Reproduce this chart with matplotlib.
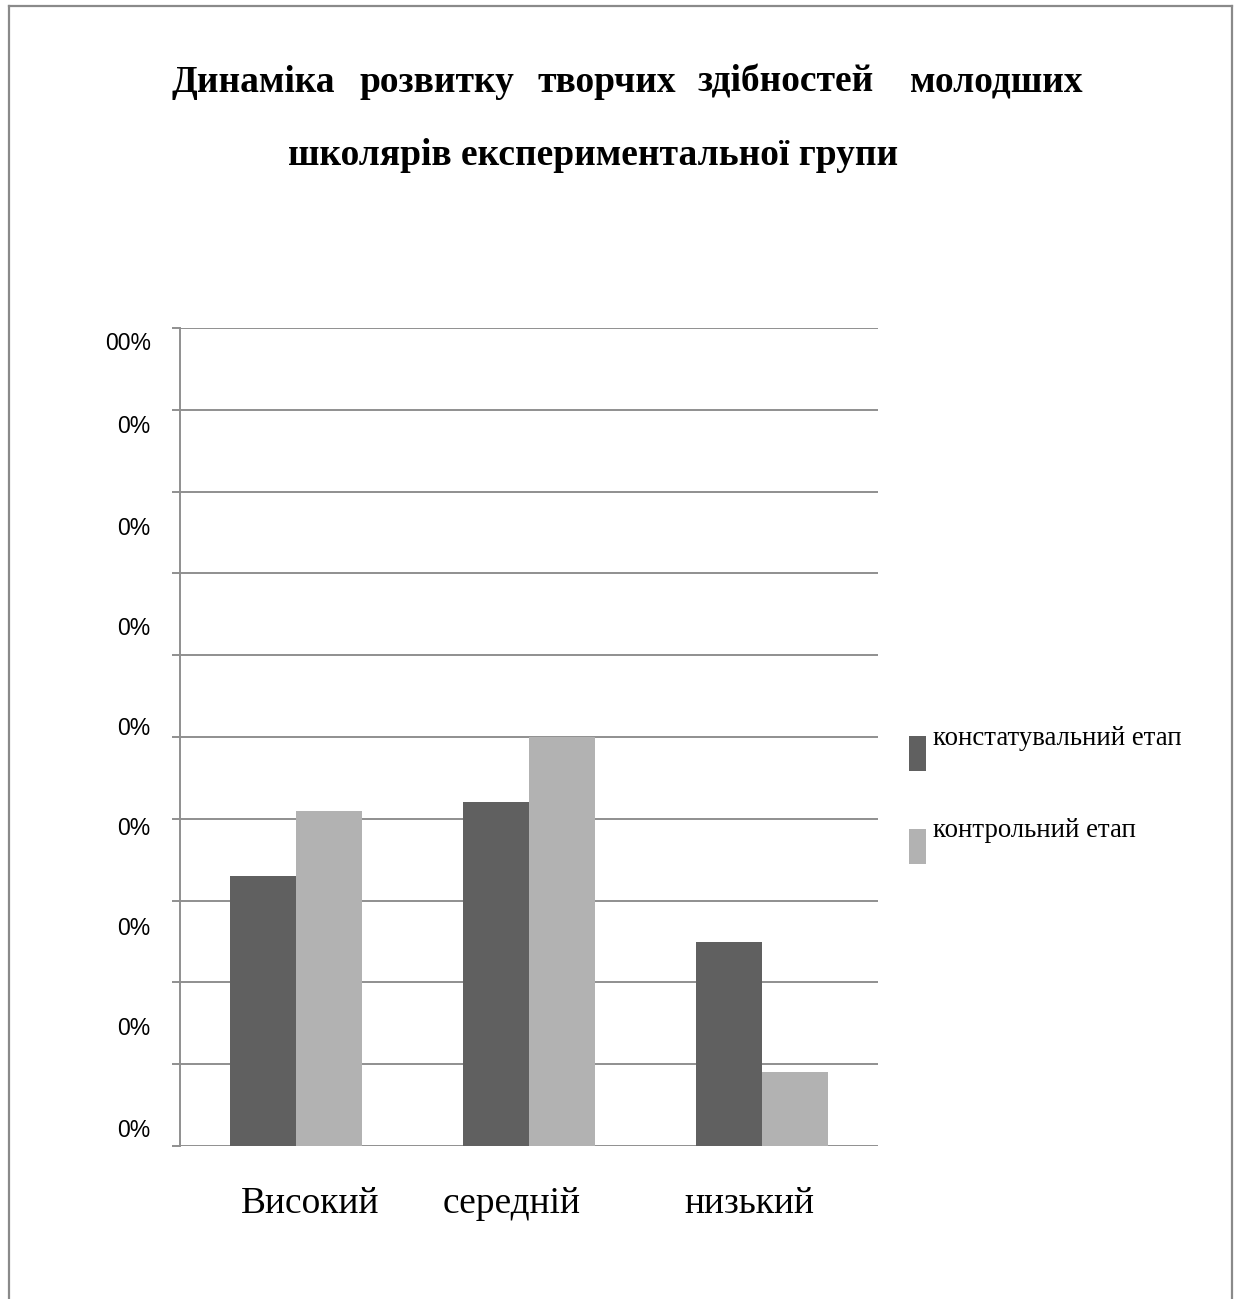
import matplotlib
matplotlib.use("Agg")
import matplotlib.pyplot as plt
from matplotlib.lines import Line2D
from matplotlib.patches import Rectangle
import matplotlib.transforms as mtransforms
import numpy as np

categories = ["Високий", "середній", "низький"]
series_names = ["констатувальний етап", "контрольний етап"]
constat_values = [33, 42, 25]
control_values = [41, 50, 9]
ytick_labels = ["00%", "0%", "0%", "0%", "0%", "0%", "0%", "0%", "0%"]
ytick_label_pos = [98.4, 88.3, 75.8, 63.6, 51.3, 39.1, 26.9, 14.7, 2.2]
grid_values = list(range(0, 101, 10))

W, H = 1237, 1299
fig = plt.figure(figsize=(W / 100, H / 100), dpi=100)
fig.patch.set_facecolor("white")

def fx(px):
    return px / W

def fy(py):
    return 1 - py / H

ax = fig.add_axes([fx(180), fy(1146), fx(878) - fx(180), fy(328) - fy(1146)])

dark = "#606060"
light = "#b2b2b2"
gridc = "#8f8f8f"
bw = 0.284
x = np.arange(len(categories))
ax.bar(x - bw / 2, constat_values, width=bw, color=dark, zorder=3, linewidth=0)
ax.bar(x + bw / 2, control_values, width=bw, color=light, zorder=3, linewidth=0)

ax.set_xlim(-0.5, 2.5)
ax.set_ylim(0, 100)

# gridlines on minor ticks
ax.set_yticks(grid_values, minor=True)
ax.yaxis.grid(True, which="minor", color=gridc, linewidth=1.4, zorder=1)
ax.tick_params(axis="y", which="minor", length=5.8, width=1.4, color=gridc, direction="out")

ax.set_yticks(ytick_label_pos)
ax.set_yticklabels(ytick_labels, fontfamily="Liberation Sans", fontsize=16.5)
ax.tick_params(axis="y", which="major", length=0, pad=21)

ax.set_xticks(x)
ax.set_xticklabels(categories, fontfamily="Liberation Serif", fontsize=27)
ax.tick_params(axis="x", length=0, pad=29)
label_shift_px = [14, -17, -12]
for lab, dx in zip(ax.get_xticklabels(), label_shift_px):
    lab.set_transform(lab.get_transform() + mtransforms.Affine2D().translate(dx, 0))

for s in ["top", "right", "bottom"]:
    ax.spines[s].set_visible(False)
ax.spines["left"].set_color(gridc)
ax.spines["left"].set_linewidth(1.4)
ax.set_axisbelow(True)

# Title (justified first line)
title_words = ["Динаміка", "розвитку", "творчих", "здібностей", "молодших"]
word_x = [171, 360, 538, 698, 910]
for w, px in zip(title_words, word_x):
    fig.text(fx(px), fy(92), w, fontfamily="Liberation Serif", fontweight="bold",
             fontsize=27, ha="left", va="baseline")
fig.text(fx(288), fy(165), "школярів експериментальної групи", fontfamily="Liberation Serif",
         fontweight="bold", fontsize=27, ha="left", va="baseline")

# Legend
leg_colors = [dark, light]
leg_top = [736, 829]
leg_base = [745, 837]
for name, c, t, b in zip(series_names, leg_colors, leg_top, leg_base):
    fig.patches.append(Rectangle((fx(909), fy(t + 35)), fx(17), fy(t) - fy(t + 35),
                                 transform=fig.transFigure, color=c, linewidth=0))
    fig.text(fx(933), fy(b), name, fontfamily="Liberation Serif", fontsize=19.3,
             ha="left", va="baseline")

# Border (open at bottom)
bc = "#8a8a8a"
fig.add_artist(Line2D([fx(9), fx(9)], [fy(6), 0], transform=fig.transFigure, color=bc, linewidth=1.6))
fig.add_artist(Line2D([fx(9), fx(1232)], [fy(6), fy(6)], transform=fig.transFigure, color=bc, linewidth=1.6))
fig.add_artist(Line2D([fx(1232), fx(1232)], [fy(6), 0], transform=fig.transFigure, color=bc, linewidth=1.6))

fig.savefig("out.png", dpi=100)
